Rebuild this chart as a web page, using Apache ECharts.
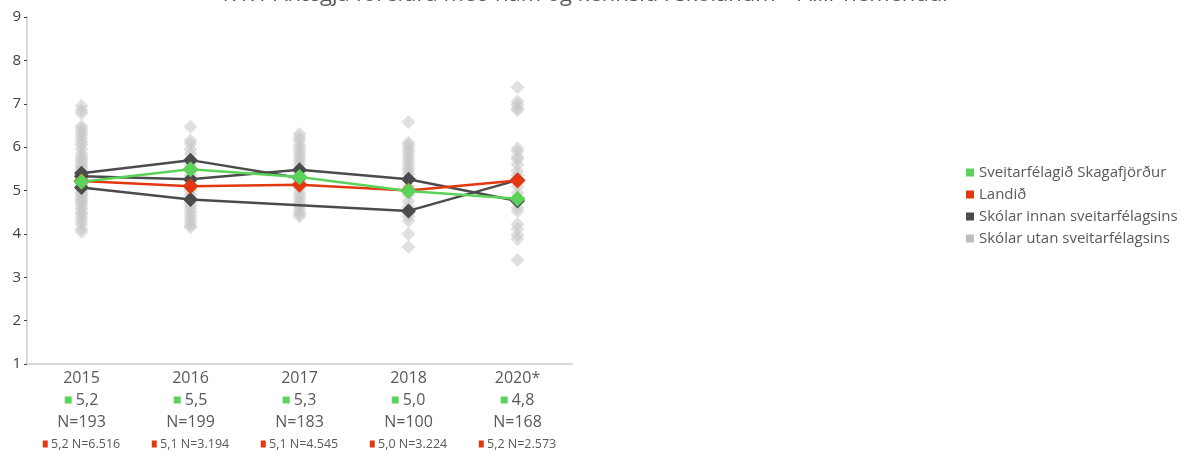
<!DOCTYPE html>
<html>
<head>
<meta charset="utf-8">
<script src="https://cdn.jsdelivr.net/npm/echarts@6/dist/echarts.min.js"></script>
<style>
  html, body { margin: 0; padding: 0; background: #fff; }
  #chart { width: 1195px; height: 453px; }
</style>
</head>
<body>
<div id="chart"></div>
<script>
// Years on the x axis
const years = ['2015', '2016', '2017', '2018', '2020*'];

// Sveitarfélagið Skagafjörður: mean and number of answers per year
const skagafjordur = [5.2, 5.49, 5.31, 4.99, 4.81];
const skagafjordurN = [193, 199, 183, 100, 168];

// Landið (whole country): mean and number of answers per year
const landid = [5.22, 5.1, 5.13, 5.0, 5.23];
const landidN = [6516, 3194, 4545, 3224, 2573];

// Schools inside the municipality (one line each, null = no data that year)
const skoliA = [5.33, 5.26, 5.48, 5.26, 4.76];
const skoliB = [5.4, 5.7, 5.29, null, null];
const skoliC = [5.07, 4.79, null, 4.53, 5.24];

// Schools outside the municipality, one list per year
const utan2015 = [6.95, 6.85, 6.78, 6.48, 6.42, 6.35, 6.28, 6.2, 6.12, 6.05, 5.95, 5.85, 5.78, 5.72, 5.66, 5.6, 5.55, 5.5, 5.45, 5.4, 5.3, 5.25, 5.15, 5.1, 5.0, 4.95, 4.9, 4.85, 4.8, 4.75, 4.7, 4.65, 4.58, 4.5, 4.45, 4.38, 4.3, 4.22, 4.12, 4.05];
const utan2016 = [6.47, 6.15, 6.08, 5.95, 5.85, 5.6, 5.45, 5.35, 5.2, 5.0, 4.9, 4.72, 4.65, 4.58, 4.5, 4.42, 4.35, 4.28, 4.2, 4.15];
const utan2017 = [6.3, 6.22, 6.15, 6.05, 5.98, 5.9, 5.82, 5.75, 5.68, 5.6, 5.4, 5.2, 5.05, 4.95, 4.88, 4.8, 4.72, 4.65, 4.58, 4.5, 4.45, 4.4];
const utan2018 = [6.58, 6.1, 6.05, 5.97, 5.9, 5.82, 5.75, 5.68, 5.6, 5.52, 5.45, 5.38, 5.1, 4.9, 4.75, 4.62, 4.48, 4.4, 4.3, 4.0, 3.7];
const utan2020 = [7.38, 7.05, 6.98, 6.9, 6.85, 5.97, 5.9, 5.78, 5.72, 5.6, 5.45, 5.35, 5.1, 4.95, 4.6, 4.52, 4.22, 4.12, 3.98, 3.88, 3.4];

const titleText = '1.1.1 Ánægja foreldra með nám og kennslu í skólanum – Allir nemendur';

const GREEN = '#5bd35b';
const RED = '#e2380f';
const DARK = '#4b4b4b';
const GREY = '#c6c6c6';
const TEXT = '#595959';
const FONT = '"Open Sans", "Noto Sans", sans-serif';

const fmt = v => v.toFixed(1).replace('.', ',');
const fmtN = n => String(n).replace(/\B(?=(\d{3})+(?!\d))/g, '.');

const utanLists = [utan2015, utan2016, utan2017, utan2018, utan2020];
const utanData = [];
utanLists.forEach((list, i) => list.forEach(v => utanData.push([i, v])));

const chart = echarts.init(document.getElementById('chart'), null, { renderer: 'canvas' });

const schoolLine = data => ({
  name: 'Skólar innan sveitarfélagsins',
  type: 'line',
  data: data,
  connectNulls: true,
  symbol: 'diamond',
  symbolSize: 15,
  color: DARK,
  lineStyle: { width: 2.5, color: DARK },
  itemStyle: { color: DARK },
  z: 3
});

chart.setOption({
  animation: false,
  textStyle: { fontFamily: FONT },
  graphic: [{
    type: 'text',
    x: 585,
    y: -16,
    style: { text: titleText, font: '22px ' + FONT, fill: TEXT, textAlign: 'center' }
  }],
  legend: {
    orient: 'vertical',
    left: 961,
    top: 160,
    itemWidth: 8,
    itemHeight: 8,
    itemGap: 7,
    icon: 'rect',
    textStyle: { fontSize: 15, color: TEXT, fontFamily: FONT },
    data: [
      { name: 'Sveitarfélagið Skagafjörður', itemStyle: { color: GREEN } },
      { name: 'Landið', itemStyle: { color: RED } },
      { name: 'Skólar innan sveitarfélagsins', itemStyle: { color: DARK } },
      { name: 'Skólar utan sveitarfélagsins', itemStyle: { color: '#bdbdbd', opacity: 1 } }
    ]
  },
  grid: { left: 27, right: 623, top: 17, bottom: 89, containLabel: false },
  xAxis: {
    type: 'category',
    data: years,
    boundaryGap: true,
    axisLine: { lineStyle: { color: '#d9d9d9', width: 2 } },
    axisTick: { show: false },
    axisLabel: {
      margin: 3,
      interval: 0,
      formatter: (v, i) =>
        `{y|${v}}\n{gs|}{g| ${fmt(skagafjordur[i])}}\n{n|N=${skagafjordurN[i]}}\n{rs|}{r| ${fmt(landid[i])} N=${fmtN(landidN[i])}}`,
      rich: {
        y: { fontSize: 16, color: TEXT, lineHeight: 22, fontFamily: FONT },
        gs: { backgroundColor: GREEN, width: 7, height: 7 },
        g: { fontSize: 16, color: TEXT, lineHeight: 22, fontFamily: FONT },
        n: { fontSize: 16, color: TEXT, lineHeight: 22, fontFamily: FONT },
        rs: { backgroundColor: RED, width: 5, height: 7 },
        r: { fontSize: 12.5, color: TEXT, lineHeight: 22, fontFamily: FONT }
      }
    }
  },
  yAxis: {
    type: 'value',
    min: 1,
    max: 9,
    interval: 1,
    splitLine: { show: false },
    axisLine: { show: true, lineStyle: { color: '#d9d9d9', width: 2 } },
    axisTick: { show: true, length: 3, lineStyle: { color: '#404040' } },
    axisLabel: { fontSize: 15, color: '#404040', margin: 6, fontFamily: FONT }
  },
  series: [
    {
      name: 'Skólar utan sveitarfélagsins',
      type: 'scatter',
      data: utanData,
      symbol: 'diamond',
      symbolSize: 14,
      itemStyle: { color: GREY, opacity: 0.55 },
      z: 1
    },
    schoolLine(skoliA),
    schoolLine(skoliB),
    schoolLine(skoliC),
    {
      name: 'Landið',
      type: 'line',
      data: landid,
      symbol: 'diamond',
      symbolSize: 16,
      color: RED,
      lineStyle: { width: 2.5, color: RED },
      itemStyle: { color: RED },
      z: 4
    },
    {
      name: 'Sveitarfélagið Skagafjörður',
      type: 'line',
      data: skagafjordur,
      symbol: 'diamond',
      symbolSize: 16,
      color: GREEN,
      lineStyle: { width: 2.5, color: GREEN },
      itemStyle: { color: GREEN },
      z: 5
    }
  ]
});
</script>
</body>
</html>
